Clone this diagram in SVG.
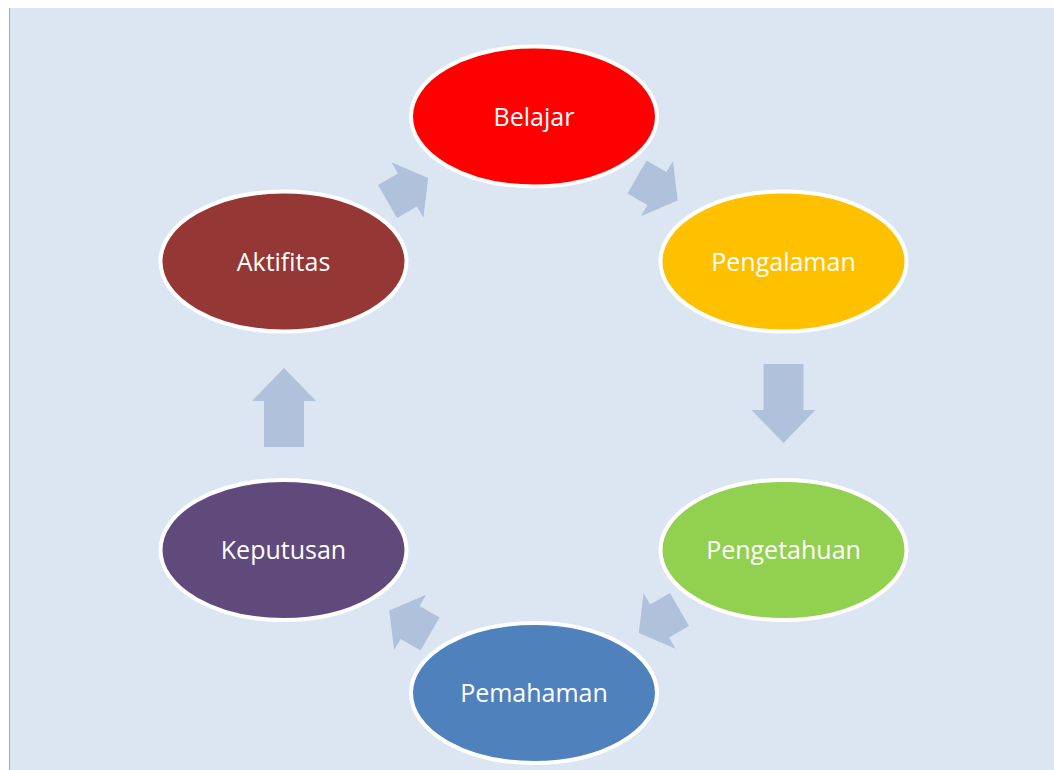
<svg xmlns="http://www.w3.org/2000/svg" width="1054" height="770" viewBox="0 0 1054 770">
<style>
.node{stroke:#ffffff;stroke-width:4}
.lbl{font-family:"Open Sans","Liberation Sans",sans-serif;font-size:25px;fill:#ffffff;text-anchor:middle}
.arr{fill:#b0c1dc}
</style>
<defs>
<path id="darr" d="M0,-19 L23,-19 L23,-32 L47,0 L23,32 L23,19 L0,19 Z"/>
<path id="varr" d="M0,-20 L46,-20 L46,-32 L79,0 L46,32 L46,20 L0,20 Z"/>
</defs>
<rect x="0" y="0" width="1054" height="770" fill="#ffffff"/>
<rect x="9" y="8" width="1045" height="762" fill="#dce6f2"/>
<line x1="9.5" y1="8" x2="9.5" y2="770" stroke="#a6a6a6" stroke-width="1"/>
<g id="connectors">
<use href="#darr" class="arr" transform="translate(387.5,201.5) rotate(-30)"/>
<use href="#darr" class="arr" transform="translate(637,177) rotate(30)"/>
<use href="#varr" class="arr" transform="translate(783.5,364) rotate(90)"/>
<use href="#darr" class="arr" transform="translate(679.5,609.5) rotate(150)"/>
<use href="#darr" class="arr" transform="translate(430,634) rotate(210)"/>
<use href="#varr" class="arr" transform="translate(284,447) rotate(-90)"/>
</g>
<g id="belajar">
<ellipse class="node" cx="534" cy="116.5" rx="123" ry="70" fill="#ff0000"/>
<text class="lbl" x="534" y="125.5">Belajar</text>
</g>
<g id="pengalaman">
<ellipse class="node" cx="783.5" cy="261.5" rx="123" ry="70" fill="#ffc000"/>
<text class="lbl" x="783.5" y="270.5">Pengalaman</text>
</g>
<g id="pengetahuan">
<ellipse class="node" cx="783.5" cy="550" rx="123" ry="70" fill="#92d050"/>
<text class="lbl" x="783.5" y="559">Pengetahuan</text>
</g>
<g id="pemahaman">
<ellipse class="node" cx="534" cy="693" rx="123" ry="70" fill="#4f81bd"/>
<text class="lbl" x="534" y="702">Pemahaman</text>
</g>
<g id="keputusan">
<ellipse class="node" cx="283.5" cy="550" rx="123" ry="70" fill="#604a7b"/>
<text class="lbl" x="283.5" y="559">Keputusan</text>
</g>
<g id="aktifitas">
<ellipse class="node" cx="283.5" cy="261.5" rx="123" ry="70" fill="#953735"/>
<text class="lbl" x="283.5" y="270.5">Aktifitas</text>
</g>
</svg>
